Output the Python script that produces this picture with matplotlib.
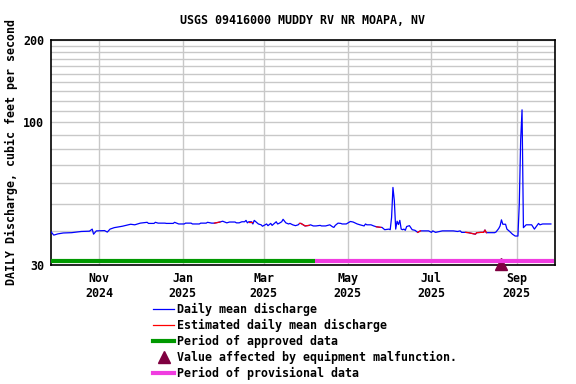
import numpy as np
import pandas as pd
import matplotlib
matplotlib.use("Agg")
import matplotlib.pyplot as plt
import matplotlib.dates as mdates
from matplotlib.lines import Line2D
from matplotlib.ticker import FixedLocator, NullFormatter

# daily mean discharge, cfs (breakpoints)
dates = [
    "2024-09-27", "2024-09-29", "2024-10-02", "2024-10-06", "2024-10-12", "2024-10-19",
    "2024-10-25", "2024-10-27", "2024-10-28", "2024-10-30", "2024-11-05", "2024-11-07",
    "2024-11-09", "2024-11-12", "2024-11-18", "2024-11-24", "2024-11-27", "2024-12-01",
    "2024-12-06", "2024-12-07", "2024-12-11", "2024-12-12", "2024-12-14", "2024-12-19",
    "2024-12-20", "2024-12-25", "2024-12-26", "2024-12-29", "2025-01-02", "2025-01-03",
    "2025-01-07", "2025-01-08", "2025-01-13", "2025-01-14", "2025-01-18", "2025-01-19",
    "2025-01-22", "2025-01-24", "2025-01-28", "2025-01-30", "2025-02-02", "2025-02-04",
    "2025-02-08", "2025-02-09", "2025-02-11", "2025-02-13", "2025-02-15", "2025-02-16",
    "2025-02-17", "2025-02-18", "2025-02-20", "2025-02-21", "2025-02-22", "2025-02-25",
    "2025-02-27", "2025-02-28", "2025-03-03", "2025-03-04", "2025-03-06", "2025-03-07",
    "2025-03-10", "2025-03-11", "2025-03-12", "2025-03-14", "2025-03-15", "2025-03-17",
    "2025-03-19", "2025-03-20", "2025-03-22", "2025-03-24", "2025-03-26", "2025-03-27",
    "2025-03-28", "2025-03-31", "2025-04-03", "2025-04-04", "2025-04-06", "2025-04-08",
    "2025-04-11", "2025-04-12", "2025-04-15", "2025-04-18", "2025-04-20", "2025-04-21",
    "2025-04-22", "2025-04-24", "2025-04-26", "2025-04-27", "2025-04-30", "2025-05-03",
    "2025-05-05", "2025-05-08", "2025-05-10", "2025-05-13", "2025-05-14", "2025-05-15",
    "2025-05-18", "2025-05-20", "2025-05-22", "2025-05-25", "2025-05-26", "2025-05-28",
    "2025-05-31", "2025-06-01", "2025-06-02", "2025-06-03", "2025-06-04", "2025-06-05",
    "2025-06-06", "2025-06-07", "2025-06-08", "2025-06-09", "2025-06-10", "2025-06-11",
    "2025-06-12", "2025-06-13", "2025-06-15", "2025-06-17", "2025-06-19", "2025-06-21",
    "2025-06-23", "2025-06-29", "2025-07-01", "2025-07-02", "2025-07-04", "2025-07-07",
    "2025-07-09", "2025-07-17", "2025-07-20", "2025-07-22", "2025-07-23", "2025-07-26",
    "2025-07-28", "2025-08-02", "2025-08-03", "2025-08-06", "2025-08-08", "2025-08-09",
    "2025-08-10", "2025-08-16", "2025-08-17", "2025-08-19", "2025-08-20", "2025-08-21",
    "2025-08-22", "2025-08-24", "2025-08-25", "2025-08-27", "2025-08-29", "2025-08-31",
    "2025-09-02", "2025-09-03", "2025-09-04", "2025-09-05", "2025-09-06", "2025-09-08",
    "2025-09-12", "2025-09-14", "2025-09-17", "2025-09-18", "2025-09-20", "2025-09-26",
]
flow = [
    39.7, 38.6, 39.0, 39.3, 39.4, 39.8,
    39.9, 40.6, 38.9, 40.0, 40.1, 39.6,
    40.6, 41.1, 41.6, 42.3, 42.1, 42.7,
    43.0, 42.6, 42.6, 43.0, 42.7, 42.7,
    42.6, 42.6, 43.0, 42.4, 42.4, 42.7,
    42.7, 42.4, 42.4, 42.7, 42.7, 43.0,
    42.7, 42.7, 43.1, 43.4, 42.8, 43.1,
    43.1, 42.8, 42.8, 43.2, 43.2, 43.7,
    42.8, 43.2, 43.2, 42.4, 43.7, 42.4,
    42.1, 41.6, 42.4, 41.8, 42.6, 41.9,
    43.2, 42.4, 42.6, 43.2, 44.1, 42.8,
    42.4, 42.6, 42.1, 41.8, 42.1, 42.6,
    42.6, 41.7, 41.9, 42.1, 41.7, 41.7,
    41.9, 41.7, 41.7, 42.1, 41.4, 41.2,
    41.9, 42.7, 42.6, 42.4, 42.4, 43.3,
    43.1, 42.4, 42.1, 41.7, 42.4, 42.1,
    42.1, 41.7, 41.4, 41.2, 41.2, 40.4,
    40.6, 40.4, 44.8, 57.7, 51.6, 40.6,
    43.4, 42.2, 43.7, 40.6, 40.4, 40.6,
    40.2, 41.5, 41.8, 40.4, 40.2, 39.5,
    40.0, 40.0, 39.5, 40.0, 39.5, 39.8,
    40.0, 40.0, 39.8, 40.0, 39.5, 39.5,
    39.4, 38.9, 39.4, 39.5, 39.5, 40.3,
    39.4, 39.4, 39.6, 40.8, 41.7, 43.9,
    42.3, 42.3, 40.6, 39.8, 38.9, 38.3,
    38.3, 50.3, 86.0, 111.0, 41.1, 42.1,
    42.1, 40.6, 42.6, 42.1, 42.4, 42.4,
]

# estimated periods (red)
est_start = ["2025-01-24", "2025-02-18", "2025-03-27", "2025-05-22", "2025-06-21", "2025-07-26"]
est_end = ["2025-01-28", "2025-02-20", "2025-04-03", "2025-05-25", "2025-06-23", "2025-08-10"]

approved = ("2024-09-27", "2025-04-07")
provisional = ("2025-04-07", "2025-09-28")
malfunction_date = "2025-08-21"

s = pd.Series(flow, index=pd.to_datetime(dates))

mono = "DejaVu Sans Mono"
fs = 8.4
plt.rcParams["font.family"] = mono
plt.rcParams["font.weight"] = "bold"

fig = plt.figure(figsize=(5.76, 3.84), dpi=100)
ax = fig.add_axes([51 / 576, 1 - 265 / 384, 504 / 576, 225 / 384])

ax.set_yscale("log")
ax.set_ylim(30, 200)
ax.set_xlim(pd.Timestamp("2024-09-27"), pd.Timestamp("2025-09-29"))

ax.yaxis.set_major_locator(FixedLocator([30, 100, 200]))
ax.yaxis.set_major_formatter(plt.FuncFormatter(lambda v, p: f"{v:g}"))
ax.yaxis.set_minor_locator(FixedLocator([40, 50, 60, 70, 80, 90, 110, 120, 130, 140,
                                          150, 160, 170, 180, 190]))
ax.yaxis.set_minor_formatter(NullFormatter())
ax.grid(True, which="both", axis="y", color="#c8c8c8", lw=1)

ax.xaxis.set_major_locator(mdates.MonthLocator(bymonth=[11, 1, 3, 5, 7, 9]))
ax.xaxis.set_major_formatter(mdates.DateFormatter("%b\n%Y"))
ax.grid(True, which="major", axis="x", color="#c8c8c8", lw=1)
ax.set_axisbelow(True)
ax.tick_params(which="both", length=0, labelsize=fs, pad=5)

for sp in ax.spines.values():
    sp.set_color("black")
    sp.set_linewidth(1.2)

ax.plot(s.index, s.values, color="#0000ff", lw=0.9, zorder=3)
for a, b in zip(est_start, est_end):
    seg = s[a:b]
    ax.plot(seg.index, seg.values, color="#ff0000", lw=0.9, zorder=4)

# malfunction marker, then data-status bars along the bottom
ax.plot([pd.Timestamp(malfunction_date)], [0.005], marker="^", ms=9, color="#7f0040",
        transform=ax.get_xaxis_transform(), clip_on=False, zorder=5)
ax.plot(pd.to_datetime(approved), [0.016, 0.016], color="#009900", lw=3,
        transform=ax.get_xaxis_transform(), solid_capstyle="butt", zorder=6)
ax.plot(pd.to_datetime(provisional), [0.016, 0.016], color="#f03ce0", lw=3,
        transform=ax.get_xaxis_transform(), solid_capstyle="butt", zorder=6)

fig.text(303 / 576, 1 - 20 / 384, "USGS 09416000 MUDDY RV NR MOAPA, NV",
         ha="center", va="center", fontsize=fs, fontweight="bold")
fig.text(11 / 576, 1 - 152 / 384, "DAILY Discharge, cubic feet per second",
         ha="center", va="center", rotation=90, fontsize=fs, fontweight="bold")

handles = [
    Line2D([], [], color="#0000ff", lw=0.9),
    Line2D([], [], color="#ff0000", lw=0.9),
    Line2D([], [], color="#009900", lw=3),
    Line2D([], [], color="#7f0040", lw=0, marker="^", ms=9),
    Line2D([], [], color="#f03ce0", lw=3),
]
labels = [
    "Daily mean discharge",
    "Estimated daily mean discharge",
    "Period of approved data",
    "Value affected by equipment malfunction.",
    "Period of provisional data",
]
fig.legend(handles, labels, loc="upper left", bbox_to_anchor=(153 / 576, 1 - 303 / 384),
           frameon=False, fontsize=fs, handlelength=1.8, handletextpad=0.25,
           labelspacing=0.24, borderpad=0, borderaxespad=0)

fig.savefig("out.png", dpi=100)
plt.close(fig)
